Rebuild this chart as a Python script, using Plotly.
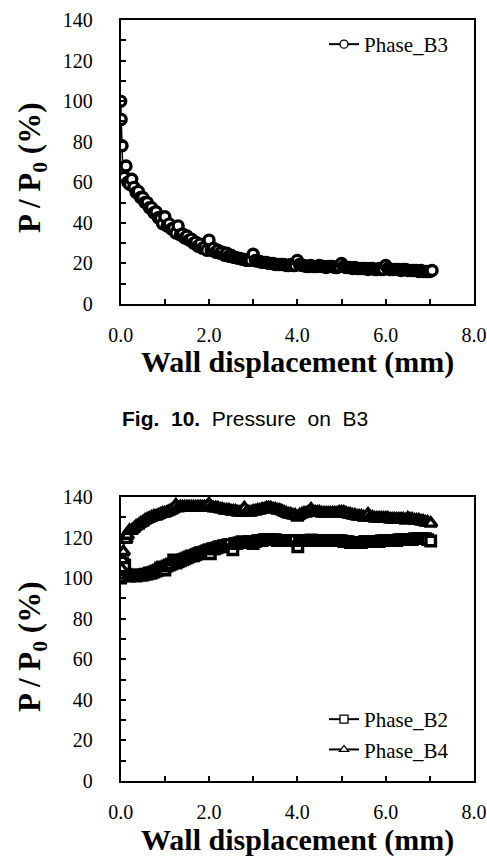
import plotly.graph_objects as go

# ---------------- data ----------------
b3_x = [0.00, 0.01, 0.03, 0.05, 0.08, 0.12, 0.16, 0.20, 0.25, 0.30, 0.35, 0.40, 0.45, 0.50, 0.55,
        0.60, 0.65, 0.70, 0.75, 0.80, 0.85, 0.90, 0.95, 1.00, 1.05, 1.10, 1.15, 1.20, 1.25, 1.30,
        1.35, 1.40, 1.45, 1.50, 1.55, 1.60, 1.65, 1.70, 1.75, 1.80, 1.85, 1.90, 1.95, 2.00, 2.05,
        2.10, 2.15, 2.20, 2.25, 2.30, 2.35, 2.40, 2.45, 2.50, 2.55, 2.60, 2.65, 2.70, 2.75, 2.80,
        2.85, 2.90, 2.95, 3.00, 3.05, 3.10, 3.15, 3.20, 3.25, 3.30, 3.35, 3.40, 3.45, 3.50, 3.55,
        3.60, 3.65, 3.70, 3.75, 3.80, 3.85, 3.90, 3.95, 4.00, 4.05, 4.10, 4.15, 4.20, 4.25, 4.30,
        4.35, 4.40, 4.45, 4.50, 4.55, 4.60, 4.65, 4.70, 4.75, 4.80, 4.85, 4.90, 4.95, 5.00, 5.05,
        5.10, 5.15, 5.20, 5.25, 5.30, 5.35, 5.40, 5.45, 5.50, 5.55, 5.60, 5.65, 5.70, 5.75, 5.80,
        5.85, 5.90, 5.95, 6.00, 6.05, 6.10, 6.15, 6.20, 6.25, 6.30, 6.35, 6.40, 6.45, 6.50, 6.55,
        6.60, 6.65, 6.70, 6.75, 6.80, 6.85, 6.90, 6.95, 7.00, 7.05]
b3_y = [100, 91, 78, 64, 62.5, 68, 60, 59, 61.5, 57.5, 55, 55.5, 52.5, 52.5, 50,
        50, 47.5, 47.5, 45, 45.5, 42.5, 42, 39.5, 43, 38.5, 39.5, 37, 37.5, 35, 38.5,
        34, 34.5, 32.5, 33.5, 31.5, 32, 30, 30.5, 28.5, 29.5, 27.5, 28, 26.5, 31.5, 26.5,
        27.5, 25.5, 26.5, 25, 25.5, 24, 25, 23.5, 24, 23, 23, 22.5, 22.5, 22, 22,
        21.5, 21.5, 21.5, 24.5, 21.5, 21, 21, 20.5, 20.5, 20.5, 20, 20, 20, 19.5, 19.5,
        19.5, 19.5, 19.5, 19, 19, 19.5, 19, 19, 21.5, 19.5, 19, 19, 18.5, 18.5, 19,
        18.5, 18.5, 18.5, 19, 18.5, 18.5, 18, 18.5, 18.5, 18.5, 18, 18, 18.5, 20, 18.5,
        18, 18, 18, 17.5, 18, 17.5, 17.5, 17.5, 17.5, 17.5, 17, 17.5, 17.5, 17, 17,
        17.5, 17, 17, 19, 17.5, 17, 17, 17, 17, 17, 16.5, 17, 17, 16.5, 16.5,
        16.5, 16.5, 16.5, 16, 16.5, 16, 16, 16, 16, 16.5]

b2_x = [0.00, 0.02, 0.04, 0.06, 0.09, 0.12, 0.15, 0.20, 0.25, 0.30, 0.35, 0.40, 0.45, 0.50, 0.55,
        0.60, 0.65, 0.70, 0.75, 0.80, 0.85, 0.90, 0.95, 1.00, 1.05, 1.10, 1.15, 1.20, 1.25, 1.30,
        1.35, 1.40, 1.45, 1.50, 1.55, 1.60, 1.65, 1.70, 1.75, 1.80, 1.85, 1.90, 1.95, 2.00, 2.03,
        2.08, 2.13, 2.18, 2.23, 2.28, 2.33, 2.38, 2.43, 2.48, 2.54, 2.58, 2.63, 2.68, 2.75, 2.80,
        2.85, 2.90, 2.95, 3.00, 3.05, 3.10, 3.15, 3.20, 3.25, 3.30, 3.35, 3.40, 3.45, 3.50, 3.55,
        3.60, 3.65, 3.70, 3.75, 3.80, 3.85, 3.90, 3.95, 4.01, 4.05, 4.10, 4.15, 4.20, 4.25, 4.31,
        4.35, 4.40, 4.45, 4.50, 4.55, 4.60, 4.65, 4.70, 4.75, 4.80, 4.85, 4.90, 4.95, 5.00, 5.05,
        5.10, 5.15, 5.20, 5.25, 5.30, 5.35, 5.40, 5.45, 5.52, 5.55, 5.60, 5.65, 5.70, 5.75, 5.80,
        5.85, 5.90, 5.95, 6.00, 6.05, 6.10, 6.15, 6.20, 6.25, 6.30, 6.35, 6.40, 6.45, 6.50, 6.55,
        6.60, 6.65, 6.70, 6.75, 6.80, 6.85, 6.90, 6.95, 7.02]
b2_y = [100, 103, 107.5, 104.5, 106.5, 102, 101.5, 101, 101.5, 101.5, 101, 101.5, 101.5, 101.5, 102,
        102, 102.5, 102.5, 103, 103.5, 104, 105, 105.5, 104, 106, 106.5, 107, 109, 107.5, 108,
        108.5, 109, 109.5, 110, 110.5, 111, 111, 111.5, 112, 112.5, 112.5, 113, 113.5, 114, 112,
        114.5, 114.5, 115, 115.5, 115.5, 116, 116, 116.5, 116.5, 114, 117, 117, 117.5, 118, 117.5,
        117.5, 118, 118, 117, 118, 118.5, 118.5, 118.5, 119, 119, 119, 119, 119, 119, 118.5,
        118.5, 118.5, 118.5, 118.5, 118.5, 118.5, 118.5, 118.5, 115.5, 118.5, 118.5, 118.5, 118.5, 118.5, 118.8,
        118.5, 118.5, 118.5, 118.5, 118.5, 118.5, 118.5, 118.5, 118.5, 118.5, 118.5, 118.5, 118.5, 118.5, 118,
        118, 118, 117.5, 117.5, 117.5, 117.5, 117.5, 117.5, 118, 118, 118, 118, 118, 118, 118,
        118, 118.5, 118.5, 118.5, 118.5, 118.5, 118.5, 118.5, 118.5, 119, 119, 119, 119, 119, 119,
        119, 119.5, 119.5, 119.5, 119.5, 119.5, 119.5, 119, 118.3]

b4_x = [0.00, 0.02, 0.04, 0.06, 0.09, 0.12, 0.15, 0.20, 0.25, 0.30, 0.35, 0.40, 0.45, 0.50, 0.55,
        0.60, 0.65, 0.70, 0.75, 0.80, 0.85, 0.90, 0.95, 1.00, 1.05, 1.10, 1.15, 1.20, 1.25, 1.30,
        1.35, 1.40, 1.45, 1.50, 1.55, 1.60, 1.65, 1.70, 1.75, 1.80, 1.85, 1.90, 1.95, 2.00, 2.05,
        2.10, 2.15, 2.20, 2.25, 2.30, 2.35, 2.40, 2.45, 2.50, 2.55, 2.60, 2.65, 2.70, 2.75, 2.80,
        2.85, 2.90, 2.95, 3.00, 3.05, 3.10, 3.15, 3.20, 3.25, 3.30, 3.35, 3.40, 3.45, 3.50, 3.55,
        3.60, 3.65, 3.70, 3.75, 3.80, 3.85, 3.90, 3.95, 4.00, 4.05, 4.10, 4.15, 4.20, 4.25, 4.31,
        4.35, 4.40, 4.45, 4.50, 4.55, 4.60, 4.65, 4.70, 4.75, 4.80, 4.85, 4.90, 4.95, 5.00, 5.05,
        5.10, 5.15, 5.20, 5.25, 5.30, 5.35, 5.40, 5.45, 5.50, 5.55, 5.60, 5.65, 5.70, 5.75, 5.80,
        5.85, 5.90, 5.95, 6.00, 6.05, 6.10, 6.15, 6.20, 6.25, 6.30, 6.35, 6.40, 6.45, 6.50, 6.55,
        6.60, 6.65, 6.70, 6.75, 6.80, 6.85, 6.90, 6.95, 7.02]
b4_y = [100, 104.5, 109, 113, 120, 119, 121, 123.5, 123.5, 124.5, 125.5, 126, 127, 127.5, 128.5,
        129, 129.5, 130, 130.5, 130.5, 131, 131.5, 132, 132, 132.5, 133, 133.5, 134, 136, 134.5,
        135, 135, 135, 135, 135, 135, 135, 135, 135, 135, 135, 135, 135, 136.5, 135,
        134.5, 134.5, 134.5, 134, 134, 133.5, 133.5, 133.5, 133, 133, 133, 132.5, 132.5, 132.5, 134.5,
        132.5, 132.5, 132.5, 133, 133, 133.5, 133.5, 134, 134, 134.5, 134.5, 134.5, 134, 134, 133.5,
        133.5, 133, 132.5, 132, 131.5, 131.5, 131, 131, 130, 131, 131.5, 132, 132, 132.5, 134,
        132.5, 132.5, 132.5, 132.5, 132, 132, 132, 132, 132, 132, 132, 132, 132.5, 132.5, 132.5,
        132, 131.5, 131.5, 131, 131, 130.5, 130.5, 130.5, 130, 130, 131.5, 130, 130, 129.5, 129.5,
        129.5, 129.5, 129.5, 129.5, 129.5, 129, 129, 129, 129, 129, 129, 129, 128.5, 129.5, 129,
        129, 128.5, 128.5, 128.5, 128, 128, 127.5, 127.5, 127]

x_ticks = [0, 2, 4, 6, 8]
y_ticks = [0, 20, 40, 60, 80, 100, 120, 140]

# ---------------- figure ----------------
W, H = 487, 867
SERIF = "Liberation Serif"
SANS = "Liberation Sans"

def px_x(p):
    return p / W

def px_y(p):
    return 1 - p / H

fig = go.Figure()
series = [
    (b3_x, b3_y, "Phase_B3", "circle", 10, "x", "y", "legend"),
    (b2_x, b2_y, "Phase_B2", "square", 9.5, "x2", "y2", "legend2"),
    (b4_x, b4_y, "Phase_B4", "triangle-up", 11, "x2", "y2", "legend2"),
]
# data traces: thick marker edges so the dense markers merge into a dark band
for xs, ys, name, sym, sz, xa, ya, lg in series:
    fig.add_trace(go.Scatter(
        x=xs, y=ys, name=name, mode="lines+markers", showlegend=False,
        line=dict(color="black", width=1.5),
        marker=dict(symbol=sym, size=sz, color="white", line=dict(color="black", width=3.4)),
        xaxis=xa, yaxis=ya))
# legend entries (thin-edged symbols as in the reference legend)
for xs, ys, name, sym, sz, xa, ya, lg in series:
    fig.add_trace(go.Scatter(
        x=[None], y=[None], name=name, mode="lines+markers", showlegend=True,
        line=dict(color="black", width=2),
        marker=dict(symbol=sym, size=8, color="white", line=dict(color="black", width=1.3)),
        xaxis=xa, yaxis=ya, legend=lg))

tickfont = dict(family=SERIF, size=20, color="black")

def xaxis_cfg(anchor):
    return dict(
        domain=[px_x(120.7), px_x(474)], anchor=anchor, automargin=False,
        range=[0, 8], tickvals=x_ticks, tickformat=".1f",
        ticks="inside", ticklen=5, tickwidth=1.5, tickcolor="black",
        minor=dict(dtick=1, ticks="inside", ticklen=5, tickwidth=1.5, tickcolor="black"),
        showline=True, linecolor="black", linewidth=2, mirror=True,
        showgrid=False, zeroline=False, tickfont=tickfont, ticklabelstandoff=12,
    )

def yaxis_cfg(top, bottom, anchor):
    return dict(
        domain=[px_y(bottom), px_y(top)], anchor=anchor, automargin=False,
        range=[0, 140], tickvals=y_ticks,
        ticks="inside", ticklen=5, tickwidth=1.5, tickcolor="black",
        minor=dict(dtick=10, ticks="inside", ticklen=5, tickwidth=1.5, tickcolor="black"),
        showline=True, linecolor="black", linewidth=2, mirror=True,
        showgrid=False, zeroline=False, tickfont=tickfont, ticklabelstandoff=22,
    )

fig.update_layout(
    width=W, height=H, margin=dict(l=0, r=0, t=0, b=0, autoexpand=False),
    font=dict(family=SERIF, color="black"),
    paper_bgcolor="white", plot_bgcolor="white",
    xaxis=xaxis_cfg("y"), yaxis=yaxis_cfg(20, 304, "x"),
    xaxis2=xaxis_cfg("y2"), yaxis2=yaxis_cfg(497, 781, "x2"),
    legend=dict(x=px_x(324), y=px_y(24), xanchor="left", yanchor="top",
                bgcolor="rgba(0,0,0,0)", font=dict(family=SERIF, size=21, color="black")),
    legend2=dict(x=px_x(324), y=px_y(699), xanchor="left", yanchor="top",
                 bgcolor="rgba(0,0,0,0)", font=dict(family=SERIF, size=21, color="black")),
    showlegend=True,
)

for yc in (362, 840):
    fig.add_annotation(xref="paper", yref="paper", showarrow=False, xanchor="center", yanchor="middle",
                       x=px_x(297), y=px_y(yc), text="<b>Wall displacement (mm)</b>",
                       font=dict(family=SERIF, size=30, color="black"))
for yc in (168, 647):
    fig.add_annotation(xref="paper", yref="paper", showarrow=False, xanchor="center", yanchor="middle",
                       x=px_x(32), y=px_y(yc), textangle=-90,
                       text="<b>P / P<sub>0</sub> (%)</b>",
                       font=dict(family=SERIF, size=31, color="black"))
fig.add_annotation(xref="paper", yref="paper", showarrow=False, xanchor="center", yanchor="middle",
                   x=px_x(245), y=px_y(419),
                   text="<b>Fig.\u00a0\u00a010.</b>\u00a0\u00a0Pressure\u00a0\u00a0on\u00a0\u00a0B3",
                   font=dict(family=SANS, size=21, color="black"))

fig.write_html("out.html")
